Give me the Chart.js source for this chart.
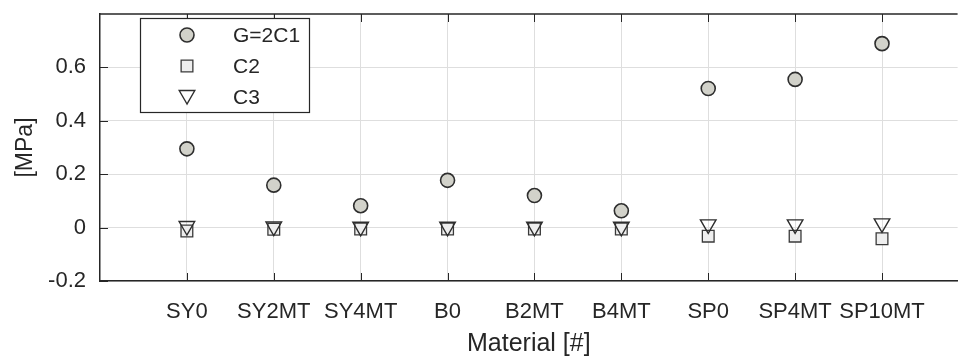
<!DOCTYPE html>
<html lang="en">
<head>
    <meta charset="UTF-8">
    <title>Material</title>
    <style>
        html, body { margin: 0; padding: 0; background: #fff; overflow: hidden; }
        .grafico { position: relative; width: 968px; height: 359px; }
    </style>
</head>
<body>
    <div class="grafico">
        <canvas id="grafico-material"></canvas>
    </div>
<script src="https://cdn.jsdelivr.net/npm/chart.js@4"></script>
<script>
    // dados
    var materiais = ['SY0', 'SY2MT', 'SY4MT', 'B0', 'B2MT', 'B4MT', 'SP0', 'SP4MT', 'SP10MT'];
    var valores_G = [0.295, 0.159, 0.082, 0.177, 0.120, 0.063, 0.521, 0.555, 0.689];
    var valores_C2 = [-0.013, -0.006, -0.005, -0.005, -0.005, -0.005, -0.032, -0.032, -0.042];
    var valores_C3 = [0.006, 0.004, 0.003, 0.003, 0.003, 0.003, 0.012, 0.012, 0.016];
    var ticks_y = [-0.2, 0, 0.2, 0.4, 0.6];
    var nomes_series = ['G=2C1', 'C2', 'C3'];

    var corTexto = '#262626';
    var fonte = "'Liberation Sans', Arial, sans-serif";

    function montarPontos(valores) {
        var pontos = [];
        for (let i = 0; i < valores.length; i++) {
            pontos.push({ x: i + 1, y: valores[i] });
        }
        return pontos;
    }

    // borda de cima, marcas de tick para dentro e legenda dentro do grafico
    var eixosMatlab = {
        id: 'eixosMatlab',
        beforeDatasetsDraw(chart) {
            var ctx = chart.ctx;
            var area = chart.chartArea;
            var x = chart.scales.x;
            var y = chart.scales.y;
            ctx.save();
            ctx.strokeStyle = corTexto;
            ctx.lineWidth = 1;
            x.ticks.forEach(function (t) {
                var px = Math.round(x.getPixelForValue(t.value)) + 0.5;
                ctx.beginPath();
                ctx.moveTo(px, area.bottom);
                ctx.lineTo(px, area.bottom - 8);
                ctx.moveTo(px, area.top);
                ctx.lineTo(px, area.top + 8);
                ctx.stroke();
            });
            y.ticks.forEach(function (t) {
                var py = Math.round(y.getPixelForValue(t.value)) + 0.5;
                ctx.beginPath();
                ctx.moveTo(area.left, py);
                ctx.lineTo(area.left + 8, py);
                ctx.stroke();
            });
            ctx.lineWidth = 1.5;
            ctx.beginPath();
            ctx.moveTo(area.left, area.top);
            ctx.lineTo(area.right, area.top);
            ctx.stroke();
            ctx.restore();
        },
        afterDraw(chart) {
            var ctx = chart.ctx;
            ctx.save();
            ctx.fillStyle = '#ffffff';
            ctx.fillRect(140, 18, 169, 94);
            ctx.strokeStyle = corTexto;
            ctx.lineWidth = 1.2;
            ctx.strokeRect(140.5, 18.5, 169, 94);
            ctx.font = '21px ' + fonte;
            ctx.textBaseline = 'middle';
            for (let i = 0; i < chart.data.datasets.length; i++) {
                var ds = chart.data.datasets[i];
                var yy = 35 + i * 31;
                ctx.fillStyle = ds.backgroundColor;
                ctx.strokeStyle = ds.borderColor;
                ctx.lineWidth = ds.borderWidth;
                Chart.helpers.drawPoint(ctx, {
                    pointStyle: ds.pointStyle,
                    rotation: ds.rotation || 0,
                    radius: ds.pointRadius,
                    borderWidth: ds.borderWidth
                }, 187, yy + (ds.rotation ? -2 : 0));
                ctx.fillStyle = corTexto;
                ctx.fillText(nomes_series[i], 233, yy + 1);
            }
            ctx.restore();
        }
    };

    var graficoMaterial = new Chart(document.getElementById('grafico-material'), {
        type: 'scatter',
        data: {
            datasets: [
                {
                    label: nomes_series[0],
                    data: montarPontos(valores_G),
                    pointStyle: 'circle',
                    pointRadius: 7,
                    backgroundColor: '#d2d2ca',
                    borderColor: '#2e2e2e',
                    borderWidth: 1.6,
                    order: 3
                },
                {
                    label: nomes_series[1],
                    data: montarPontos(valores_C2),
                    pointStyle: 'rect',
                    pointRadius: 8.3,
                    backgroundColor: '#eeeeee',
                    borderColor: '#3a3a3a',
                    borderWidth: 1.3,
                    order: 2
                },
                {
                    label: nomes_series[2],
                    data: montarPontos(valores_C3),
                    pointStyle: 'triangle',
                    rotation: 180,
                    pointRadius: 9,
                    backgroundColor: 'rgba(255,255,255,0)',
                    borderColor: '#2e2e2e',
                    borderWidth: 1.4,
                    order: 1
                }
            ]
        },
        options: {
            responsive: true,
            maintainAspectRatio: false,
            animation: false,
            layout: {
                padding: { top: 14, right: 0, bottom: 0, left: 0 }
            },
            plugins: {
                legend: { display: false },
                tooltip: { enabled: false }
            },
            scales: {
                x: {
                    type: 'linear',
                    min: 0,
                    max: 9.87,
                    afterBuildTicks: function (scale) {
                        scale.ticks = materiais.map(function (m, i) { return { value: i + 1 }; });
                    },
                    afterFit: function (scale) { scale.height = 78; },
                    ticks: {
                        autoSkip: false,
                        maxRotation: 0,
                        padding: 18,
                        color: corTexto,
                        font: { family: fonte, size: 22 },
                        callback: function (v) { return materiais[v - 1]; }
                    },
                    grid: { color: '#dedede', lineWidth: 1, drawTicks: false },
                    border: { color: corTexto, width: 1.5 },
                    title: {
                        display: true,
                        text: 'Material [#]',
                        color: corTexto,
                        font: { family: fonte, size: 25 },
                        padding: { top: 0, bottom: 0 }
                    }
                },
                y: {
                    min: -0.2,
                    max: 0.8,
                    afterBuildTicks: function (scale) {
                        scale.ticks = ticks_y.map(function (v) { return { value: v }; });
                    },
                    afterFit: function (scale) {
                        scale.width = 100;
                        scale.paddingTop = 0;
                        scale.paddingBottom = 0;
                    },
                    ticks: {
                        padding: 14,
                        color: corTexto,
                        font: { family: fonte, size: 22 },
                        callback: function (v) { return String(Math.round(v * 10) / 10); }
                    },
                    grid: { color: '#dedede', lineWidth: 1, drawTicks: false },
                    border: { color: corTexto, width: 1.5 },
                    title: {
                        display: true,
                        text: '[MPa]',
                        color: corTexto,
                        font: { family: fonte, size: 23 },
                        padding: { top: 12, bottom: 0 }
                    }
                }
            }
        },
        plugins: [eixosMatlab]
    });
</script>
</body>
</html>
